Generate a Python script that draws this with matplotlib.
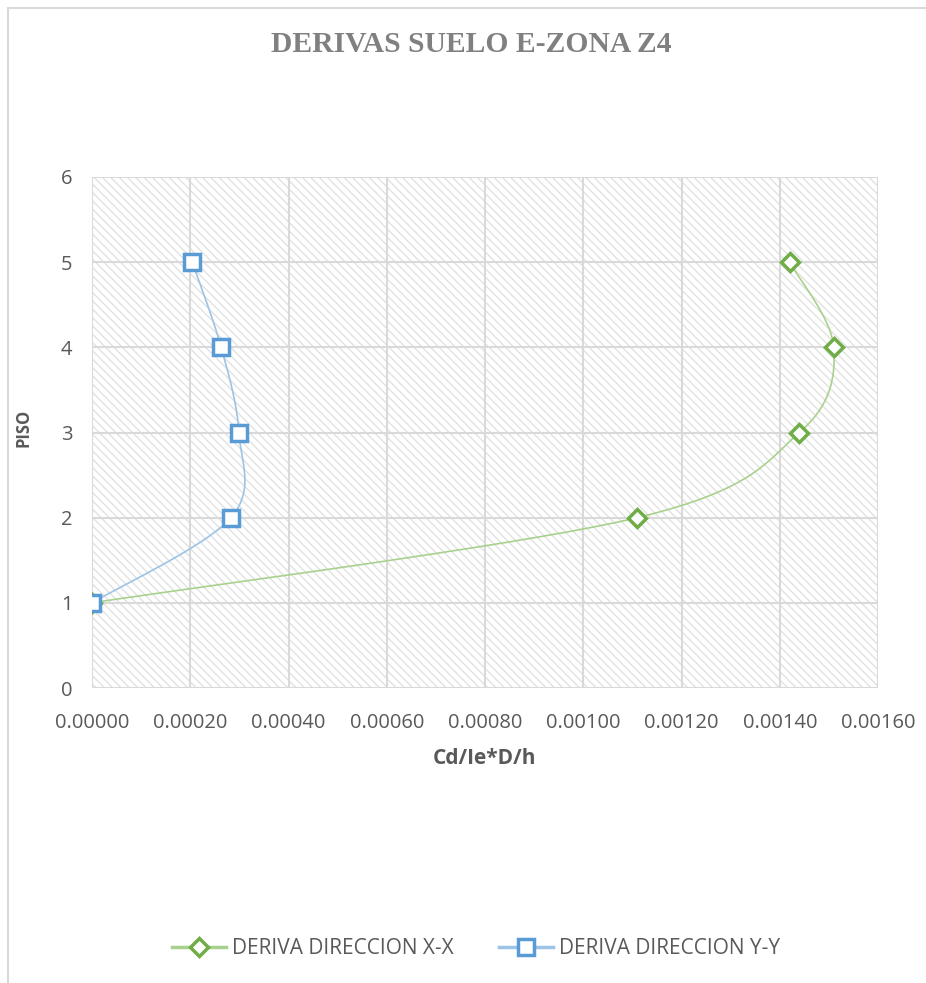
import numpy as np
import matplotlib
matplotlib.use('Agg')
import matplotlib.pyplot as plt
from matplotlib.lines import Line2D
from matplotlib.patches import Rectangle

# ---- data ----
floors = [1, 2, 3, 4, 5]
deriva_xx = [0.0, 0.00111, 0.00144, 0.00151, 0.00142]
deriva_yy = [0.0, 0.000283, 0.000299, 0.000263, 0.000204]
x_ticks = [0.0, 0.0002, 0.0004, 0.0006, 0.0008, 0.0010, 0.0012, 0.0014, 0.0016]
y_ticks = [0, 1, 2, 3, 4, 5, 6]
title = "DERIVAS SUELO E-ZONA Z4"
xlabel = "Cd/Ie*D/h"
ylabel = "PISO"
labels = ["DERIVA DIRECCION X-X", "DERIVA DIRECCION Y-Y"]

GREEN = '#70AD47'
BLUE = '#5B9BD5'
GREEN_L = '#A9D18E'
BLUE_L = '#9DC3E6'
TXT = '#595959'

plt.rcParams['hatch.linewidth'] = 1.0
plt.rcParams['hatch.color'] = '#e2e2e2'

fig = plt.figure(figsize=(9.26, 9.83), dpi=100)
ax = fig.add_axes([92/926, 1-688/983, (878-92)/926, (688-177)/983])

ax.set_xlim(x_ticks[0], x_ticks[-1])
ax.set_ylim(y_ticks[0], y_ticks[-1])

# hatched plot area
ax.add_patch(Rectangle((0, 0), 1, 1, transform=ax.transAxes, facecolor='white',
                       edgecolor='#e2e2e2', hatch='\\\\\\\\', lw=0, zorder=0))

def smooth(xs, ys, n=40):
    # Excel-like smoothing computed in display space
    fig.canvas.draw()
    pts = ax.transData.transform(np.column_stack([xs, ys]))
    P = np.vstack([pts[0], pts, pts[-1]])
    out = []
    for i in range(1, len(P) - 2):
        p0, p1, p2, p3 = P[i-1], P[i], P[i+1], P[i+2]
        c1 = p1 + (p2 - p0) / 6.0
        c2 = p2 - (p3 - p1) / 6.0
        t = np.linspace(0, 1, n)[:, None]
        seg = ((1-t)**3)*p1 + 3*((1-t)**2)*t*c1 + 3*(1-t)*(t**2)*c2 + (t**3)*p2
        out.append(seg if i == 1 else seg[1:])
    out = np.vstack(out)
    d = ax.transData.inverted().transform(out)
    return d[:, 0], d[:, 1]

sx, sy = smooth(deriva_xx, floors)
ax.plot(sx, sy, color=GREEN_L, lw=1.2, zorder=3)
sx, sy = smooth(deriva_yy, floors)
ax.plot(sx, sy, color=BLUE_L, lw=1.2, zorder=3)

ax.plot(deriva_xx, floors, ls='none', marker='D', ms=9, mfc='white', mec=GREEN, mew=2.5, zorder=4)
ax.plot(deriva_yy, floors, ls='none', marker='s', ms=11.5, mfc='white', mec=BLUE, mew=2.5, zorder=4)

ax.set_xticks(x_ticks)
ax.set_xticklabels([f"{v:.5f}" for v in x_ticks])
ax.set_yticks(y_ticks)
ax.grid(True, color='#d9d9d9', lw=1.5, zorder=1)
ax.set_axisbelow(True)
for s in ax.spines.values():
    s.set_visible(False)
ax.tick_params(axis='x', length=0, labelsize=14.5, labelcolor=TXT, pad=18)
ax.tick_params(axis='y', length=0, labelsize=14.5, labelcolor=TXT, pad=14)
for lab in ax.get_xticklabels() + ax.get_yticklabels():
    lab.set_family('Open Sans')

ax.set_xlabel(xlabel, fontsize=15, fontweight='bold', color=TXT, family='Open Sans')
ax.set_ylabel(ylabel, fontsize=12, fontweight='bold', color=TXT, family='Open Sans')
ax.xaxis.set_label_coords((485-92)/786, (688-758)/511)
ax.yaxis.set_label_coords((23-92)/786, (688-428)/511)
ax.xaxis.label.set_va('center')
ax.yaxis.label.set_va('center')

fig.text(471/926, 1-45/983, title, ha='center', va='center', fontsize=21.3, fontweight='bold',
         color='#808080', family='Liberation Serif')

# chart border (top and left visible)
fig.add_artist(Line2D([7.5/926, 1], [1-7.5/983]*2, color='#d9d9d9', lw=1.5))
fig.add_artist(Line2D([7.5/926]*2, [0, 1-7.5/983], color='#d9d9d9', lw=1.5))

handles = [Line2D([], [], color=GREEN_L, lw=2.5, marker='D', ms=9, mfc='white', mec=GREEN, mew=2.5),
           Line2D([], [], color=BLUE_L, lw=2.5, marker='s', ms=11, mfc='white', mec=BLUE, mew=2.5)]
leg = fig.legend(handles, labels, loc='center', bbox_to_anchor=(476/926, 1-949/983), ncol=2,
                 frameon=False, handlelength=2.6, handletextpad=0.25, columnspacing=2.2,
                 prop={'family': 'Open Sans', 'size': 15})
for t in leg.get_texts():
    t.set_color(TXT)

fig.savefig('out.png', dpi=100, facecolor='white')
